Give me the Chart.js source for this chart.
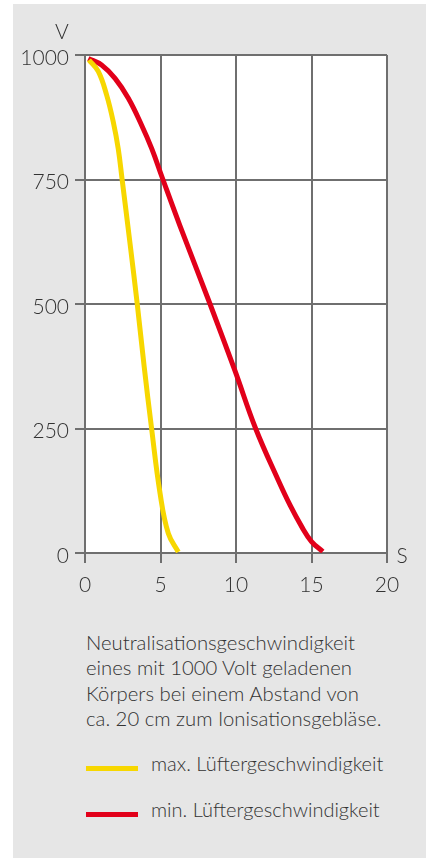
<!DOCTYPE html>
<html>
<head>
<meta charset="utf-8">
<script src="https://cdn.jsdelivr.net/npm/chart.js@4.4.1/dist/chart.umd.min.js"></script>
<style>
  html, body { margin: 0; padding: 0; background: #fff; }
  body { width: 426px; height: 858px; position: relative; overflow: hidden; font-family: Lato, "Open Sans", sans-serif; }
  #panel { position: absolute; left: 13px; top: 4px; width: 413px; height: 854px; background: #e6e6e6; }
  #wrap { position: absolute; left: 0; top: 0; width: 426px; height: 623px; }
  #caption { position: absolute; left: 86px; top: 630px; font-size: 20.3px; font-weight: 300; line-height: 25.3px; color: #333; white-space: nowrap; }
  .leg { position: absolute; left: 86px; font-size: 20px; font-weight: 300; color: #333; white-space: nowrap; }
  .leg span.sw { position: absolute; left: 0; width: 52px; height: 5px; }
  .leg span.tx { position: absolute; left: 65px; top: -15px; }
</style>
</head>
<body>
<div id="panel"></div>
<div id="wrap"><canvas id="voltChart"></canvas></div>
<div id="caption">Neutralisationsgeschwindigkeit<br>eines mit 1000 Volt geladenen<br>Körpers bei einem Abstand von<br>ca. 20 cm zum Ionisationsgebläse.</div>
<div id="legend"></div>
<script>
// Zeit in s, Spannung in V
const seriesLabels = ['max. Lüftergeschwindigkeit', 'min. Lüftergeschwindigkeit'];
const seriesColors = ['#f7d700', '#e2001a'];

const maxTime = [0.26, 0.88, 1.43, 1.87, 2.2, 2.45, 2.98, 3.46, 3.92, 4.41, 4.97, 5.52, 6.18];
const maxVolt = [990, 967, 920, 866, 812, 752, 622, 500, 374, 250, 120, 39, 2];

const minTime = [0.22, 1.1, 1.99, 2.87, 3.75, 4.42, 5.1, 6.29, 8.28, 9.93, 11.3, 12.8, 13.58, 14.35, 15.0, 15.75];
const minVolt = [993, 980, 953, 913, 859, 812, 755, 657, 500, 366, 250, 146, 96, 53, 23, 3];

const xTicks = [0, 5, 10, 15, 20];
const yTicks = [0, 250, 500, 750, 1000];

function toPoints(xs, ys) {
    return xs.map((x, i) => ({ x: x, y: ys[i] }));
}

// weisser Plotbereich + Achsenbuchstaben
const extras = {
    id: 'extras',
    beforeDraw(c) {
        const a = c.chartArea;
        c.ctx.save();
        c.ctx.fillStyle = '#fff';
        c.ctx.fillRect(a.left, a.top, a.right - a.left, a.bottom - a.top);
        c.ctx.restore();
    },
    afterDraw(c) {
        const ctx = c.ctx;
        ctx.save();
        ctx.fillStyle = '#333';
        ctx.font = '300 21px Lato, "Open Sans", sans-serif';
        ctx.textAlign = 'center';
        ctx.textBaseline = 'middle';
        ctx.fillText('V', 62, 32);
        ctx.fillText('S', 402, 556);
        ctx.restore();
    }
};

let chart;
function initChart() {
    const ctx = document.getElementById('voltChart').getContext('2d');
    const gridColor = '#6f6f6f';
    const tickFont = { family: 'Lato, "Open Sans", sans-serif', size: 21, weight: 300 };
    chart = new Chart(ctx, {
        type: 'line',
        data: {
            datasets: [
                { label: seriesLabels[0], data: toPoints(maxTime, maxVolt), borderColor: seriesColors[0] },
                { label: seriesLabels[1], data: toPoints(minTime, minVolt), borderColor: seriesColors[1] }
            ].map(d => Object.assign(d, {
                borderWidth: 5,
                pointRadius: 0,
                fill: false,
                tension: 0.4,
                borderCapStyle: 'butt'
            }))
        },
        options: {
            responsive: true,
            maintainAspectRatio: false,
            animation: false,
            layout: { padding: { left: 0, right: 39, top: 55, bottom: 0 } },
            plugins: {
                legend: { display: false },
                tooltip: { enabled: false }
            },
            scales: {
                x: {
                    type: 'linear',
                    min: 0, max: 20,
                    afterBuildTicks: s => { s.ticks = xTicks.map(v => ({ value: v })); },
                    afterFit: s => { s.height = 70; },
                    grid: { color: gridColor, lineWidth: 2, tickLength: 10, tickColor: gridColor },
                    border: { display: true, color: gridColor, width: 2 },
                    ticks: { color: '#333', font: tickFont, padding: 10, maxRotation: 0, callback: v => String(v) }
                },
                y: {
                    min: 0, max: 1000,
                    afterBuildTicks: s => { s.ticks = yTicks.map(v => ({ value: v })); },
                    afterFit: s => { s.width = 85; },
                    grid: { color: gridColor, lineWidth: 2, tickLength: 10, tickColor: gridColor },
                    border: { display: true, color: gridColor, width: 2 },
                    ticks: { color: '#333', font: tickFont, padding: 6, labelOffset: 3, callback: v => String(v) }
                }
            }
        },
        plugins: [extras]
    });

    const legend = document.getElementById('legend');
    const legendTop = [768, 814];
    seriesLabels.forEach((lab, i) => {
        const row = document.createElement('div');
        row.className = 'leg';
        row.style.top = (legendTop[i] - 2) + 'px';
        row.innerHTML = '<span class="sw" style="background:' + seriesColors[i] + '"></span><span class="tx">' + lab + '</span>';
        legend.appendChild(row);
    });
}

window.onload = initChart;
</script>
</body>
</html>
